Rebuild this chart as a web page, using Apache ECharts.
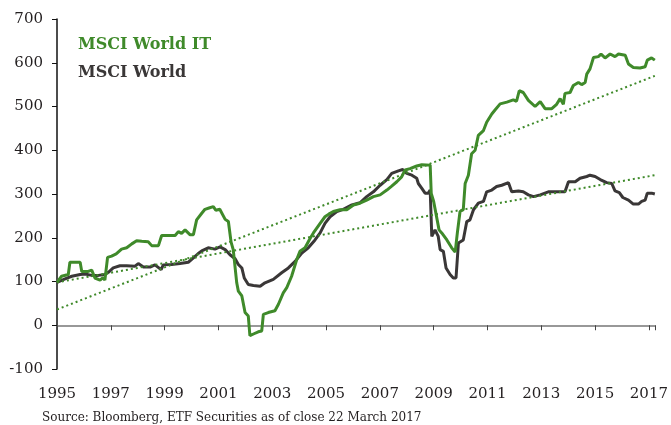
<!DOCTYPE html>
<html>
<head>
<meta charset="utf-8">
<script src="https://cdn.jsdelivr.net/npm/echarts@6/dist/echarts.min.js"></script>
<style>
  html, body { margin: 0; padding: 0; background: #fff; }
  #chart { width: 671px; height: 425px; }
</style>
</head>
<body>
<div id="chart"></div>
<script>
// [year, index level]
const itData = [
  [1995.0,98],[1995.17,112],[1995.42,116],[1995.48,144],[1995.86,144],[1995.92,123],[1996.16,123],[1996.29,126],
  [1996.41,108],[1996.6,103],[1996.71,109],[1996.78,103],[1996.88,155],[1997.03,158],[1997.2,163],[1997.4,174],
  [1997.59,177],[1997.78,186],[1997.96,193],[1998.15,192],[1998.39,191],[1998.52,182],[1998.77,182],[1998.89,205],
  [1999.2,205],[1999.39,205],[1999.51,214],[1999.63,210],[1999.76,218],[1999.94,207],[2000.07,207],[2000.19,241],
  [2000.38,256],[2000.5,265],[2000.65,268],[2000.81,271],[2000.9,263],[2001.05,265],[2001.25,242],[2001.37,237],
  [2001.47,190],[2001.55,173],[2001.68,97],[2001.74,78],[2001.87,67],[2001.99,29],[2002.11,21],[2002.17,-24],
  [2002.3,-20],[2002.48,-15],[2002.61,-13],[2002.67,25],[2002.85,29],[2003.1,33],[2003.23,48],[2003.41,74],
  [2003.54,86],[2003.72,112],[2003.91,150],[2004.03,169],[2004.22,177],[2004.41,199],[2004.53,211],[2004.78,233],
  [2004.96,248],[2005.1,254],[2005.27,260],[2005.52,264],[2005.77,264],[2006.02,275],[2006.26,279],[2006.51,286],
  [2006.76,294],[2007.01,298],[2007.26,309],[2007.44,318],[2007.63,328],[2007.81,339],[2007.94,355],[2008.12,358],
  [2008.37,364],[2008.56,367],[2008.87,366],[2008.91,301],[2009.0,283],[2009.2,218],[2009.3,211],[2009.49,195],
  [2009.67,177],[2009.8,167],[2009.88,211],[2009.98,260],[2010.1,264],[2010.17,324],[2010.29,343],[2010.41,392],
  [2010.54,400],[2010.66,434],[2010.85,445],[2010.97,464],[2011.16,483],[2011.28,492],[2011.47,506],[2011.72,510],
  [2011.96,515],[2012.08,512],[2012.18,536],[2012.33,532],[2012.52,514],[2012.77,500],[2012.96,511],[2013.14,495],
  [2013.39,495],[2013.57,505],[2013.7,518],[2013.82,505],[2013.88,530],[2014.07,532],[2014.19,548],[2014.38,555],
  [2014.5,550],[2014.63,555],[2014.69,574],[2014.81,586],[2014.94,612],[2015.12,614],[2015.22,620],[2015.37,611],
  [2015.56,620],[2015.74,614],[2015.87,620],[2016.12,617],[2016.24,597],[2016.42,589],[2016.67,588],[2016.86,591],
  [2016.94,606],[2017.1,611],[2017.22,606]
];

const worldData = [
  [1995.0,98],[1995.3,106],[1995.55,112],[1995.86,116],[1996.04,117],[1996.29,114],[1996.54,114],[1996.78,116],
  [1996.91,121],[1997.09,131],[1997.34,136],[1997.59,136],[1997.9,135],[1998.02,141],[1998.21,133],[1998.46,133],
  [1998.64,138],[1998.87,127],[1998.95,138],[1999.26,139],[1999.57,141],[1999.88,144],[2000.07,154],[2000.25,164],
  [2000.38,170],[2000.62,177],[2000.87,174],[2001.06,179],[2001.25,173],[2001.43,161],[2001.62,152],[2001.74,139],
  [2001.87,131],[2001.96,108],[2002.11,93],[2002.3,91],[2002.55,89],[2002.73,97],[2003.04,105],[2003.35,120],
  [2003.6,131],[2003.85,146],[2004.1,165],[2004.34,177],[2004.59,195],[2004.78,211],[2004.96,233],[2005.15,248],
  [2005.4,260],[2005.64,265],[2005.96,275],[2006.26,280],[2006.51,294],[2006.76,305],[2007.01,320],[2007.26,333],
  [2007.44,347],[2007.69,353],[2007.85,356],[2008.0,347],[2008.19,343],[2008.37,336],[2008.43,324],[2008.56,313],
  [2008.68,302],[2008.8,302],[2008.87,309],[2008.93,203],[2009.05,218],[2009.17,203],[2009.24,173],[2009.36,169],
  [2009.46,131],[2009.61,116],[2009.73,108],[2009.83,108],[2009.92,188],[2010.1,195],[2010.23,237],[2010.35,241],
  [2010.48,264],[2010.66,279],[2010.85,283],[2010.97,305],[2011.16,309],[2011.34,317],[2011.53,320],[2011.78,326],
  [2011.9,305],[2012.15,307],[2012.33,305],[2012.52,298],[2012.71,294],[2012.96,298],[2013.26,305],[2013.57,305],
  [2013.88,305],[2014.01,328],[2014.26,328],[2014.44,336],[2014.69,340],[2014.81,343],[2015.0,340],[2015.19,333],
  [2015.43,326],[2015.62,324],[2015.74,307],[2015.9,303],[2016.03,292],[2016.24,286],[2016.42,277],[2016.61,277],
  [2016.73,283],[2016.86,286],[2016.94,302],[2017.1,302],[2017.22,300]
];

// linear trend end points
const itTrend = [[1995, 36], [2017.22, 570]];
const worldTrend = [[1995, 98], [2017.22, 343]];

const seriesNames = ["MSCI World IT", "MSCI World"];
const sourceText = "Source: Bloomberg, ETF Securities as of close 22 March 2017";

const GREEN = "#3f8a2a";
const DARK = "#3a3737";
const FONT = "DejaVu Serif";

const chart = echarts.init(document.getElementById("chart"));

const option = {
  animation: false,
  backgroundColor: "#fff",
  textStyle: { fontFamily: FONT },
  title: {
    text: sourceText,
    left: 37,
    top: 407,
    textStyle: { fontFamily: FONT, fontSize: 12, fontWeight: "normal", color: "#231f20" },
  },
  legend: {
    orient: "vertical",
    left: 68,
    top: 32,
    itemWidth: 0,
    itemHeight: 0,
    itemGap: 12,
    selectedMode: false,
    icon: "none",
    data: [
      { name: seriesNames[0], textStyle: { color: GREEN } },
      { name: seriesNames[1], textStyle: { color: DARK } },
    ],
    textStyle: { fontFamily: FONT, fontSize: 16, fontWeight: "bold" },
  },
  grid: { left: 57, right: 16, top: 19, bottom: 56 },
  xAxis: [
    {
      type: "value",
      min: 1995,
      max: 2017.22,
      interval: 2,
      axisLine: { onZero: true, lineStyle: { color: "#777", width: 1.5 } },
      axisTick: { show: true, inside: false, length: 5, lineStyle: { color: "#444" } },
      axisLabel: { show: false },
      splitLine: { show: false },
    },
    {
      type: "value",
      position: "bottom",
      min: 1995,
      max: 2017.22,
      interval: 2,
      axisLine: { show: false, onZero: false },
      axisTick: { show: false },
      axisLabel: {
        margin: 18,
        fontFamily: FONT,
        fontSize: 15,
        color: "#231f20",
        formatter: (v) => String(Math.round(v)),
      },
      splitLine: { show: false },
    },
  ],
  yAxis: {
    type: "value",
    min: -100,
    max: 700,
    interval: 100,
    axisLine: { show: true, lineStyle: { color: "#111", width: 1.5 } },
    axisTick: { show: true, inside: false, length: 5, lineStyle: { color: "#111" } },
    axisLabel: { margin: 14, fontFamily: FONT, fontSize: 15, color: "#231f20" },
    splitLine: { show: false },
  },
  series: [
    {
      name: "IT trend",
      type: "line",
      data: itTrend,
      symbol: "none",
      lineStyle: { color: GREEN, width: 2, type: [2, 3] },
      silent: true,
      z: 3,
    },
    {
      name: "World trend",
      type: "line",
      data: worldTrend,
      symbol: "none",
      lineStyle: { color: GREEN, width: 2, type: [2, 3] },
      silent: true,
      z: 3,
    },
    {
      name: seriesNames[1],
      type: "line",
      data: worldData,
      symbol: "none",
      color: DARK,
      lineStyle: { color: DARK, width: 3 },
      z: 2,
    },
    {
      name: seriesNames[0],
      type: "line",
      data: itData,
      symbol: "none",
      color: GREEN,
      lineStyle: { color: GREEN, width: 3 },
      z: 2,
    },
  ],
};

chart.setOption(option);
</script>
</body>
</html>
